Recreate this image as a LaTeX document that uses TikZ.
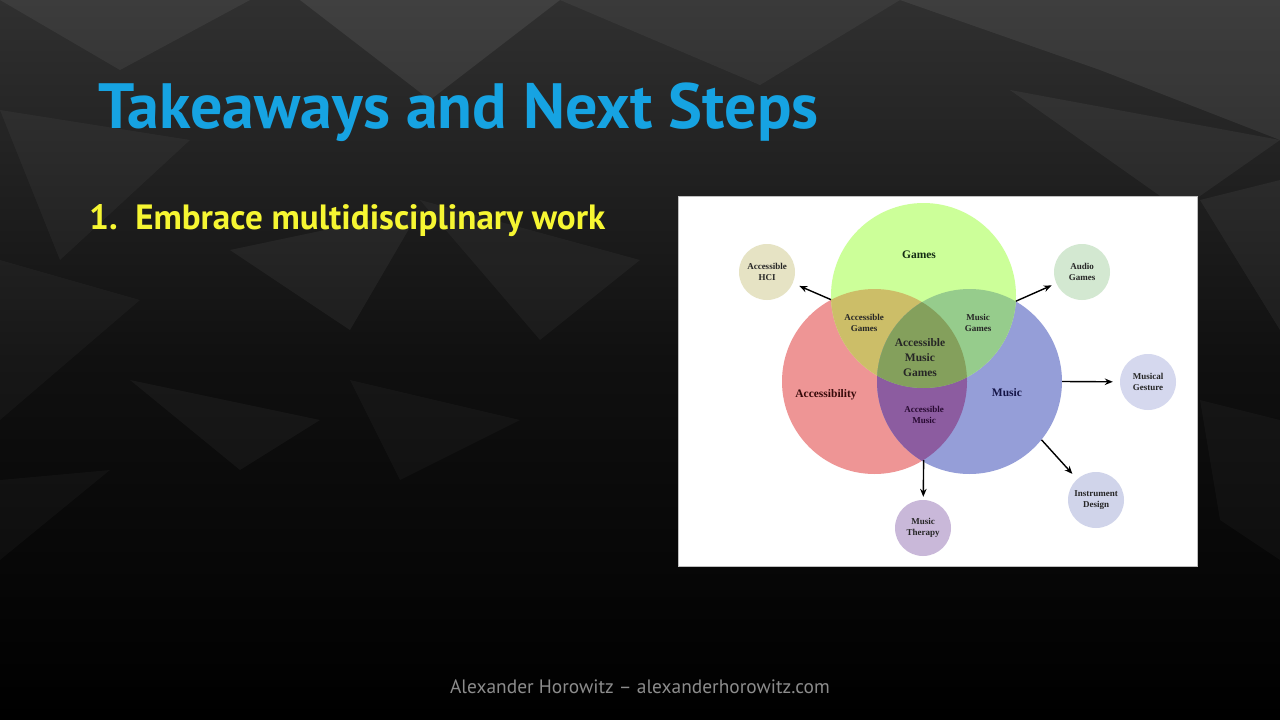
\documentclass[tikz,border=0pt]{standalone}
\usepackage{fontspec}
\setmainfont{Liberation Serif}
\newfontfamily\slidefont{PT Sans}
\usetikzlibrary{arrows.meta}

\definecolor{titleblue}{RGB}{22,163,226}
\definecolor{bulletyellow}{RGB}{246,246,50}
\definecolor{footgray}{RGB}{140,140,140}
\definecolor{gamesgreen}{RGB}{204,255,153}
\definecolor{accred}{RGB}{238,149,149}
\definecolor{musblue}{RGB}{149,158,216}
\definecolor{accgames}{RGB}{204,190,104}
\definecolor{musgames}{RGB}{150,204,140}
\definecolor{accmus}{RGB}{140,92,160}
\definecolor{amgames}{RGB}{132,160,92}

\begin{document}
\begin{tikzpicture}[x=1pt, y=-1pt,
  venn/.style={circle, inner sep=0pt, minimum size=185pt},
  satellite/.style={circle, inner sep=0pt, minimum size=56pt, align=center,
    font=\bfseries\fontsize{9}{11.5}\selectfont, text=black!85},
  biglabel/.style={align=center, font=\bfseries\fontsize{11.5}{15}\selectfont},
  smalllabel/.style={align=center, font=\bfseries\fontsize{9}{11.5}\selectfont, text=black!85},
  link/.style={-{Stealth[length=8pt,width=6.5pt]}, line width=1.4pt, black}]

%─────────────
% Controls
%─────────────
\def\vr{92.5}   % radius of the three big circles
\newcommand{\facet}[2]{\fill[white, fill opacity=#1] #2 -- cycle;}

%─────────────
% Slide background
%─────────────
\useasboundingbox (0,0) rectangle (1280,720);
\shade[top color={rgb,255:red,48;green,48;blue,48}, bottom color=black, middle color={rgb,255:red,16;green,16;blue,16}]
  (0,0) rectangle (1280,720);
\facet{0.06}{(0,0) -- (250,0) -- (120,70)}
\facet{0.08}{(300,0) -- (560,0) -- (430,100)}
\facet{0.05}{(560,0) -- (900,0) -- (760,85)}
\facet{0.07}{(900,0) -- (1280,0) -- (1280,140) -- (1100,70)}
\facet{0.05}{(1010,90) -- (1280,140) -- (1180,210)}
\facet{0.04}{(0,110) -- (190,140) -- (60,260)}
\facet{0.05}{(230,250) -- (420,210) -- (350,330)}
\facet{0.04}{(420,200) -- (640,260) -- (540,340)}
\facet{0.03}{(0,260) -- (140,300) -- (0,420)}
\facet{0.04}{(130,380) -- (320,420) -- (240,470)}
\facet{0.03}{(350,380) -- (520,420) -- (400,480)}
\facet{0.05}{(1200,200) -- (1280,180) -- (1280,330)}
\facet{0.03}{(1200,400) -- (1280,420) -- (1280,560) -- (1220,520)}
\facet{0.03}{(0,480) -- (110,470) -- (0,560)}

%─────────────
% Slide texts
%─────────────
\node[anchor=base west, inner sep=0pt, text=titleblue, font=\slidefont\bfseries\fontsize{64}{70}\selectfont]
  (title) at (98,128) {Takeaways and Next Steps};
\node[anchor=base west, inner sep=0pt, text=bulletyellow, font=\slidefont\bfseries\fontsize{35.1}{40}\selectfont]
  (bullet) at (89,229) {1.\hspace{0.5em}Embrace multidisciplinary work};
\node[text=footgray, font=\slidefont\fontsize{19.4}{23}\selectfont]
  (footer) at (640,687) {Alexander Horowitz – alexanderhorowitz.com};

%─────────────
% Venn figure
%─────────────
\node[fill=white, draw=black!25, line width=0.4pt, inner sep=0pt, minimum width=519pt, minimum height=370pt]
  (panel) at (937.5,381) {};

\node[venn, fill=accred] (acc) at (874.5,381.5) {};
\node[venn, fill=musblue] (mus) at (969.5,381.5) {};
\node[venn, fill=gamesgreen] (games) at (923.5,295.5) {};

% overlaps of two circles
\begin{scope}
  \clip (874.5,381.5) circle (\vr);
  \fill[accgames] (923.5,295.5) circle (\vr);
  \fill[accmus] (969.5,381.5) circle (\vr);
\end{scope}
\begin{scope}
  \clip (969.5,381.5) circle (\vr);
  \fill[musgames] (923.5,295.5) circle (\vr);
\end{scope}
% overlap of all three
\begin{scope}
  \clip (874.5,381.5) circle (\vr);
  \clip (969.5,381.5) circle (\vr);
  \fill[amgames] (923.5,295.5) circle (\vr);
\end{scope}

\node[biglabel, text={rgb,255:red,20;green,45;blue,20}] (lgames) at (919,255) {Games};
\node[biglabel, text={rgb,255:red,55;green,10;blue,10}] (lacc) at (826,395) {Accessibility};
\node[biglabel, text={rgb,255:red,20;green,20;blue,70}] (lmus) at (1007,393) {Music};
\node[biglabel, text=black!85] (lamg) at (920,358) {Accessible\\Music\\Games};
\node[smalllabel] (lag) at (864,323) {Accessible\\Games};
\node[smalllabel] (lmg) at (978,323) {Music\\Games};
\node[smalllabel, text={rgb,255:red,40;green,10;blue,50}] (lam) at (924,415) {Accessible\\Music};

% neighbouring fields
\node[satellite, fill={rgb,255:red,230;green,227;blue,196}] (hci) at (767,272) {Accessible\\HCI};
\node[satellite, fill={rgb,255:red,211;green,232;blue,209}] (audio) at (1082,272) {Audio\\Games};
\node[satellite, fill={rgb,255:red,213;green,216;blue,238}] (gesture) at (1148,382) {Musical\\Gesture};
\node[satellite, fill={rgb,255:red,208;green,212;blue,234}] (instrument) at (1096,500) {Instrument\\Design};
\node[satellite, fill={rgb,255:red,201;green,184;blue,217}] (therapy) at (923,528) {Music\\Therapy};

\draw[link, shorten >=7pt] (acc.118) -- (hci);
\draw[link, shorten >=5pt] (mus.60) -- (audio);
\draw[link, shorten >=7pt] (mus.east) -- (gesture);
\draw[link, shorten >=7pt] (mus.-39) -- (instrument);
\draw[link, shorten >=3pt] (acc.-58) -- (therapy);

\end{tikzpicture}
\end{document}
